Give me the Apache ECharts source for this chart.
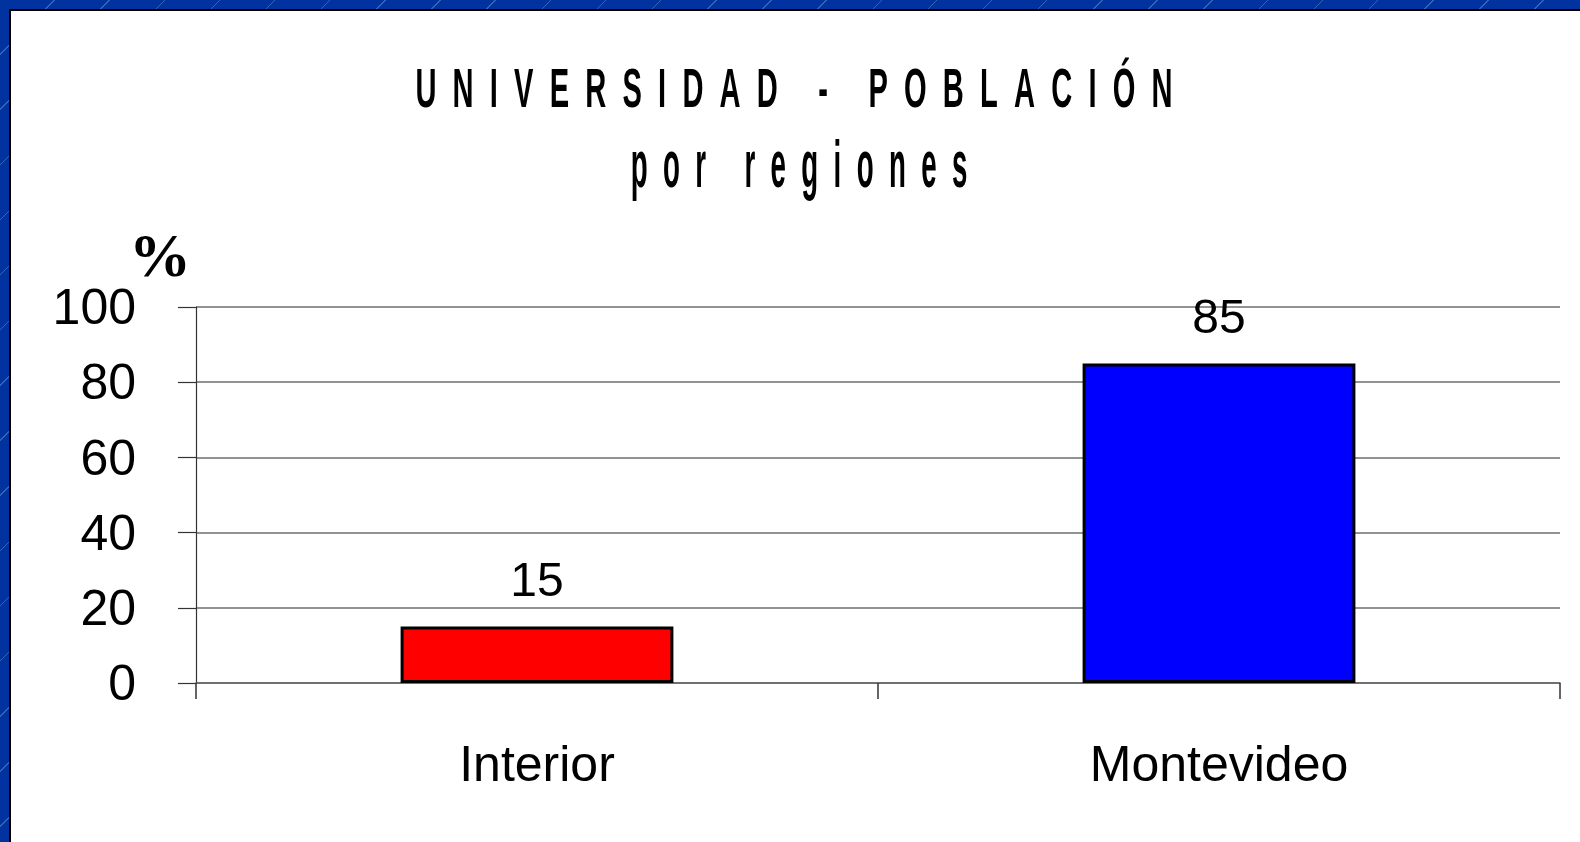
<!DOCTYPE html>
<html>
<head>
<meta charset="utf-8">
<script src="https://cdn.jsdelivr.net/npm/echarts@6/dist/echarts.min.js"></script>
<style>
  html, body { margin:0; padding:0; width:1580px; height:842px; overflow:hidden; }
  body { background-color:#0033a0;
         background-image: repeating-linear-gradient(135deg, rgba(255,255,255,0) 0px, rgba(255,255,255,0) 38px, rgba(160,180,230,0.35) 38px, rgba(160,180,230,0.35) 39px); }
  #frame { position:absolute; left:9px; top:9px; width:1571px; height:833px; background:#000; }
  #chart { position:absolute; left:11px; top:11px; width:1569px; height:831px; background:#fff; }
</style>
</head>
<body>
<div id="frame"></div>
<div id="chart"></div>
<script>
const titleLine1 = 'UNIVERSIDAD - POBLACIÓN';
const titleLine2 = 'por regiones';
const yAxisName = '%';
const categories = ['Interior', 'Montevideo'];
const values = [15, 85];
const barColors = ['#ff0000', '#0000ff'];
const yMin = 0, yMax = 100, yStep = 20;

const SANS = "'Liberation Sans Narrow', 'Arial Narrow', 'Liberation Sans', Arial, sans-serif";

function wideSpaced(str) {
  return str.split('').join('  ');
}

const chart = echarts.init(document.getElementById('chart'), null, { renderer: 'canvas' });
chart.setOption({
  backgroundColor: '#ffffff',
  animation: false,
  graphic: [
    { type: 'text', x: 783, y: 81, scaleX: 0.52, scaleY: 1,
      style: { text: wideSpaced(titleLine1), font: "bold 56px " + SANS, fill: '#000',
               textAlign: 'center', align: 'center', textVerticalAlign: 'middle', verticalAlign: 'middle' } },
    { type: 'text', x: 788, y: 158, scaleX: 0.413, scaleY: 1,
      style: { text: wideSpaced(titleLine2), font: "bold 67px " + SANS, fill: '#000',
               textAlign: 'center', align: 'center', textVerticalAlign: 'middle', verticalAlign: 'middle' } }
  ],
  grid: { left: 185, right: 20, top: 296, bottom: 159, containLabel: false },
  xAxis: {
    type: 'category',
    data: categories,
    boundaryGap: true,
    axisLine: { show: true, lineStyle: { color: '#666', width: 1.6 } },
    axisTick: { show: true, length: 16, alignWithLabel: false, lineStyle: { color: '#333', width: 1.5 } },
    axisLabel: {
      margin: 59,
      fontSize: 50,
      fontFamily: SANS,
      color: '#000'
    },
    splitLine: { show: false }
  },
  yAxis: {
    type: 'value',
    min: yMin, max: yMax, interval: yStep,
    name: yAxisName,
    nameLocation: 'end',
    nameGap: 16,
    nameMoveOverlap: false,
    nameTextStyle: { fontFamily: "'Liberation Serif', 'Times New Roman', serif", fontWeight: 'bold', fontSize: 62, color: '#000',
                     align: 'right', verticalAlign: 'bottom', padding: [0, 5, 0, 0] },
    axisLine: { show: true, lineStyle: { color: '#333', width: 1.2 } },
    axisTick: { show: true, length: 18, lineStyle: { color: '#333', width: 1.2 } },
    axisLabel: {
      margin: 60,
      fontSize: 50,
      fontFamily: SANS,
      color: '#000',
      verticalAlign: 'top',
      lineHeight: 7
    },
    splitLine: { show: true, lineStyle: { color: '#6e6e6e', width: 1.6 } }
  },
  series: [{
    type: 'bar',
    data: values.map((v, i) => ({ value: v, itemStyle: { color: barColors[i] } })),
    barWidth: '40%',
    itemStyle: { borderColor: '#000', borderWidth: 3 },
    label: {
      show: true, position: 'top', distance: 20,
      fontSize: 48, fontFamily: SANS, color: '#000'
    }
  }]
});
</script>
</body>
</html>
